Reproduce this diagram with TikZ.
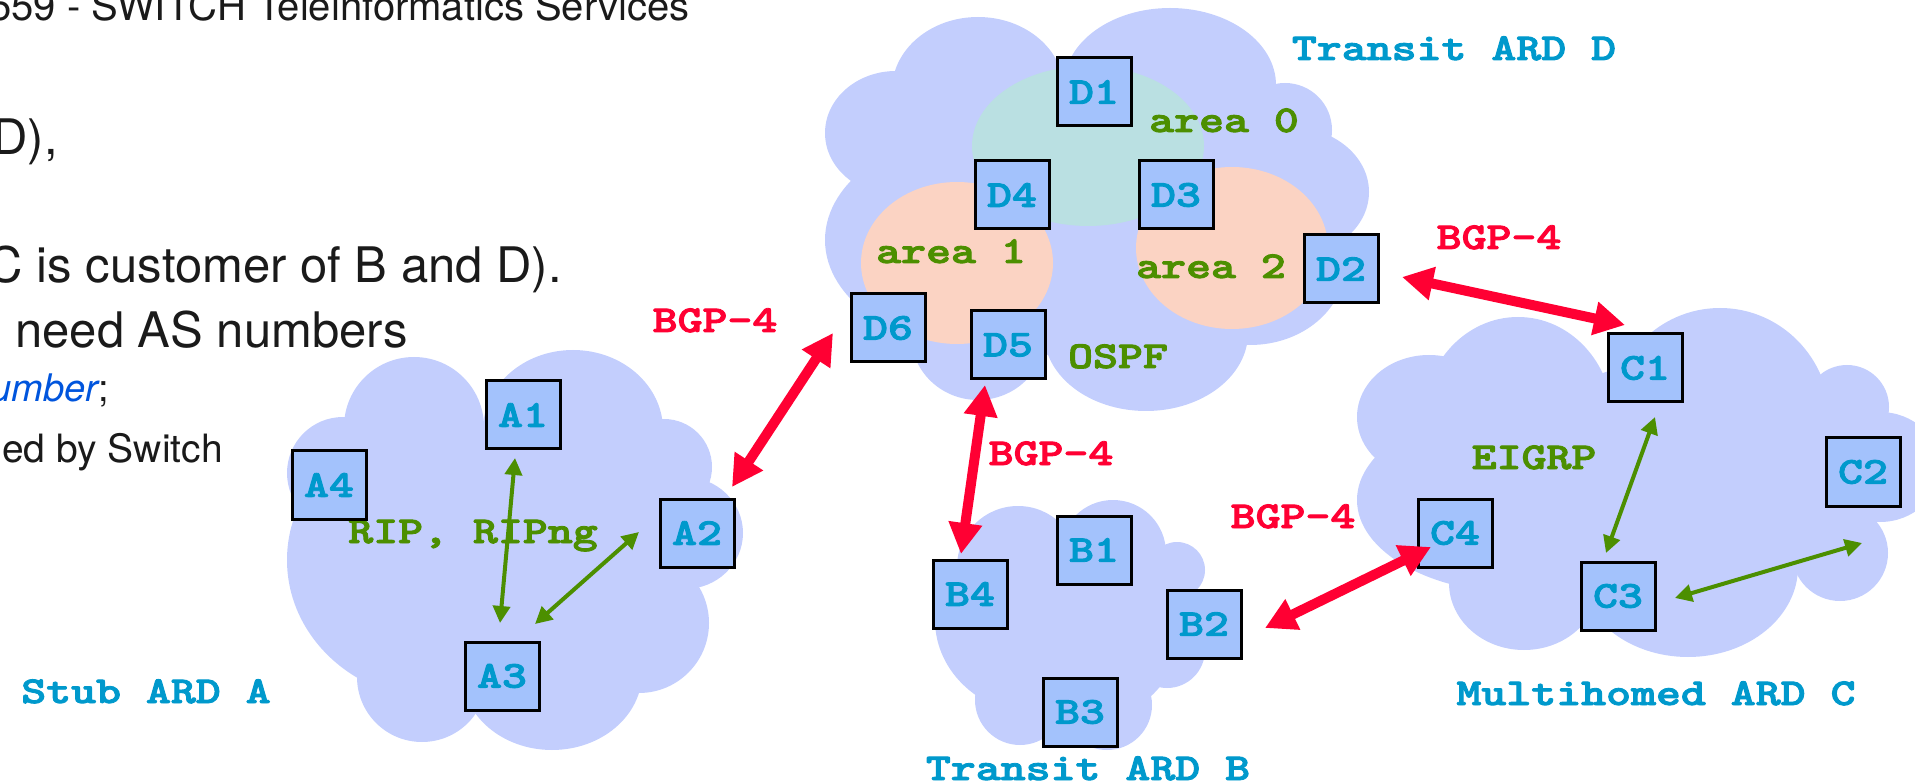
\documentclass[tikz,border=0pt]{standalone}
\usepackage{fontspec}
\setmainfont{TeX Gyre Heros}
\newfontfamily\courfont{lmmonolt10-bold.otf}[FakeBold=2.2]
\usepackage{graphicx}
\usetikzlibrary{arrows.meta,calc}

\definecolor{cloudblue}{RGB}{195,206,253}
\definecolor{routerfill}{RGB}{163,194,252}
\definecolor{areateal}{RGB}{186,224,226}
\definecolor{areapeach}{RGB}{251,211,195}
\definecolor{labelblue}{RGB}{0,153,204}
\definecolor{protogreen}{RGB}{76,143,0}
\definecolor{bgpred}{RGB}{255,0,51}
\definecolor{bodytext}{RGB}{26,26,26}
\definecolor{linkblue}{RGB}{0,85,221}

% wide bold typewriter text, Courier-like proportions
\newcommand{\monotext}[1]{\scalebox{1.25}[1]{\fontsize{38}{38}\selectfont\courfont #1}}

\tikzset{
  cloudpart/.style={fill=cloudblue},
  router/.style={draw=black, line width=3pt, fill=routerfill,
    minimum width=74pt, minimum height=68pt, inner sep=0pt, text=labelblue},
  tag/.style={inner sep=0pt, anchor=base},
  bodyline/.style={inner sep=0pt, anchor=base east, text=bodytext},
  bgp/.style={draw=bgpred, line width=10pt,
    {Triangle[length=31pt,width=32pt]}-{Triangle[length=31pt,width=32pt]}},
  igp/.style={draw=protogreen, line width=4pt,
    {Triangle[length=17pt,width=17pt]}-{Triangle[length=17pt,width=17pt]}}
}

\newcommand{\router}[3]{\node[router] (#1) at (#2,#3) {\monotext{#1}};}

\begin{document}
\begin{tikzpicture}[x=1pt,y=-1pt]
\useasboundingbox (0,0) rectangle (1915,783);
\clip (0,0) rectangle (1915,783);

% ---- clouds (unions of overlapping ellipses) ----
% domain A
\foreach \cx/\cy/\rx/\ry in {414/427/70/70, 573/430/90/80, 664/467/48/48,
    685/533/58/56, 639/623/70/70, 552/673/90/77, 422/677/65/65,
    440/560/153/140, 343/473/56/56, 540/550/150/130}
  \fill[cloudpart] (\cx,\cy) ellipse [x radius=\rx pt, y radius=\ry pt];
% domain B
\foreach \cx/\cy/\rx/\ry in {1018/567/61/61, 1113/553/53/53, 1177/570/28/28,
    1167/650/38/38, 1107/705/45/45, 1020/700/45/45, 1040/620/105/95,
    1090/630/90/90}
  \fill[cloudpart] (\cx,\cy) ellipse [x radius=\rx pt, y radius=\ry pt];
% domain C
\foreach \cx/\cy/\rx/\ry in {1518/420/95/103, 1720/420/110/112, 1429/417/72/62,
    1520/500/163/93, 1847/407/42/42, 1880/467/60/55, 1840/553/48/48,
    1688/567/110/90, 1524/583/75/67, 1680/480/170/120}
  \fill[cloudpart] (\cx,\cy) ellipse [x radius=\rx pt, y radius=\ry pt];
% domain D
\foreach \cx/\cy/\rx/\ry in {978/90/86/73, 1170/85/106/77, 1285/130/47/47,
    1290/192/79/65, 1250/265/95/80, 1146/333/102/78, 978/335/67/65,
    990/240/165/110, 896/133/71/62, 1100/210/200/150}
  \fill[cloudpart] (\cx,\cy) ellipse [x radius=\rx pt, y radius=\ry pt];

% ---- OSPF areas ----
\fill[areateal]  (1088,146) ellipse [x radius=116pt, y radius=80pt];
\fill[areapeach] (957,263)  ellipse [x radius=96pt, y radius=81pt];
\fill[areapeach] (1232,248) ellipse [x radius=96pt, y radius=81pt];

% ---- slide text on the left ----
\node[bodyline] (t1) at (690,21)  {\fontsize{40}{40}\selectfont 559 - SWITCH Teleinformatics Services};
\node[bodyline] (t2) at (58,155)  {\fontsize{49}{49}\selectfont D),};
\node[bodyline] (t3) at (562,283) {\fontsize{49}{49}\selectfont C is customer of B and D).};
\node[bodyline] (t4) at (408,348) {\fontsize{49}{49}\selectfont s need AS numbers};
\node[bodyline] (t5) at (109,402) {\fontsize{38}{38}\selectfont{\color{linkblue}\itshape umber};};
\node[bodyline] (t6) at (223,463) {\fontsize{39}{39}\selectfont ed by Switch};

% ---- domain and protocol labels ----
\node[tag, text=labelblue] (nameD) at (1454,60)  {\monotext{Transit ARD D}};
\node[tag, text=labelblue] (nameA) at (146,703)  {\monotext{Stub ARD A}};
\node[tag, text=labelblue] (nameC) at (1656,705) {\monotext{Multihomed ARD C}};
\node[tag, text=labelblue] (nameB) at (1088,780) {\monotext{Transit ARD B}};

\node[tag, text=protogreen] (ar0)  at (1224,132) {\monotext{area 0}};
\node[tag, text=protogreen] (ar1)  at (951,263)  {\monotext{area 1}};
\node[tag, text=protogreen] (ar2)  at (1211,278) {\monotext{area 2}};
\node[tag, text=protogreen] (ospf) at (1118,368) {\monotext{OSPF}};
\node[tag, text=protogreen] (rip)  at (473,543)  {\monotext{RIP, RIPng}};
\node[tag, text=protogreen] (eig)  at (1534,469) {\monotext{EIGRP}};

\node[tag, text=bgpred] (bgp1) at (715,332)  {\monotext{BGP-4}};
\node[tag, text=bgpred] (bgp2) at (1051,465) {\monotext{BGP-4}};
\node[tag, text=bgpred] (bgp3) at (1499,249) {\monotext{BGP-4}};
\node[tag, text=bgpred] (bgp4) at (1293,528) {\monotext{BGP-4}};

% ---- routers ----
\router{A1}{523}{415}
\router{A2}{697}{533}
\router{A3}{502}{676}
\router{A4}{329}{485}
\router{B1}{1094}{550}
\router{B2}{1204}{624}
\router{B3}{1080}{712}
\router{B4}{970}{594}
\router{C1}{1645}{368}
\router{C2}{1863}{472}
\router{C3}{1618}{596}
\router{C4}{1455}{533}
\router{D1}{1094}{92}
\router{D2}{1341}{269}
\router{D3}{1176}{195}
\router{D4}{1012}{195}
\router{D5}{1008}{345}
\router{D6}{888}{328}

% ---- intra-domain links ----
\draw[igp] ($(A1)+(-8,43)$)  -- ($(A3)+(-2,-53)$);
\draw[igp] ($(A3)+(33,-52)$) -- ($(A2)+(-58,-1)$);
\draw[igp] ($(C1)+(10,49)$)  -- ($(C3)+(-12,-43)$);
\draw[igp] ($(C3)+(57,2)$)   -- ($(C2)+(-1,71)$);

% ---- BGP sessions ----
\draw[bgp] ($(A2)+(35,-46)$) -- ($(D6)+(-55,5)$);
\draw[bgp] ($(D5)+(-23,40)$) -- ($(B4)+(-9,-40)$);
\draw[bgp] ($(D2)+(61,8)$)   -- ($(C1)+(-20,-43)$);
\draw[bgp] ($(B2)+(61,4)$)   -- ($(C4)+(-24,14)$);
\end{tikzpicture}
\end{document}
